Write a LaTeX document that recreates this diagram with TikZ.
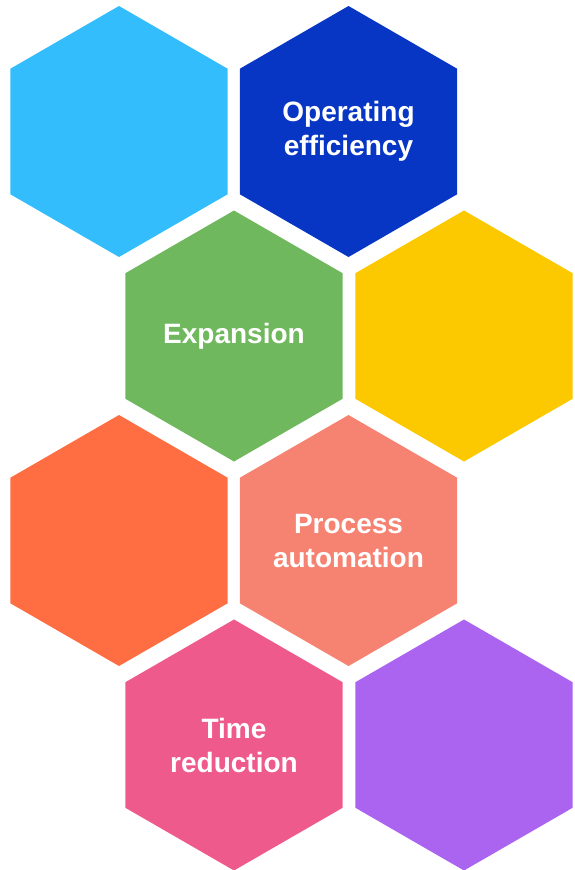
\documentclass[tikz,border=0pt]{standalone}
\usepackage{fontspec}
\setmainfont{Liberation Sans}
\usetikzlibrary{shapes.geometric}
\definecolor{hlblue}{HTML}{33BDFC}
\definecolor{hdblue}{HTML}{0836C4}
\definecolor{hgreen}{HTML}{70B85E}
\definecolor{hyellow}{HTML}{FCC800}
\definecolor{horange}{HTML}{FF6D42}
\definecolor{hsalmon}{HTML}{F68272}
\definecolor{hpink}{HTML}{EF5A8C}
\definecolor{hpurple}{HTML}{AB64F0}
\tikzset{
  hexa/.style={regular polygon, regular polygon sides=6, shape border rotate=30,
    minimum size=251pt, inner sep=0pt, draw=none, fill=#1,
    text=white, align=center, font=\bfseries\fontsize{28}{34}\selectfont}
}
\begin{document}
\begin{tikzpicture}[x=1pt,y=-1pt]
\useasboundingbox (0,0) rectangle (575,870);
\node[hexa=hlblue] (h1) at (119,131.5) {};
\node[hexa=hdblue] (h2) at (348.5,131.5) {Operating\\efficiency};
\node[hexa=hgreen] (h3) at (234,336) {Expansion};
\node[hexa=hyellow] (h4) at (464,336) {};
\node[hexa=horange] (h5) at (119,540.5) {};
\node[hexa=hsalmon] (h6) at (348.5,540.5) {Process\\automation};
\node[hexa=hpink] (h7) at (234,745) {Time\\reduction};
\node[hexa=hpurple] (h8) at (464,745) {};
\end{tikzpicture}
\end{document}
